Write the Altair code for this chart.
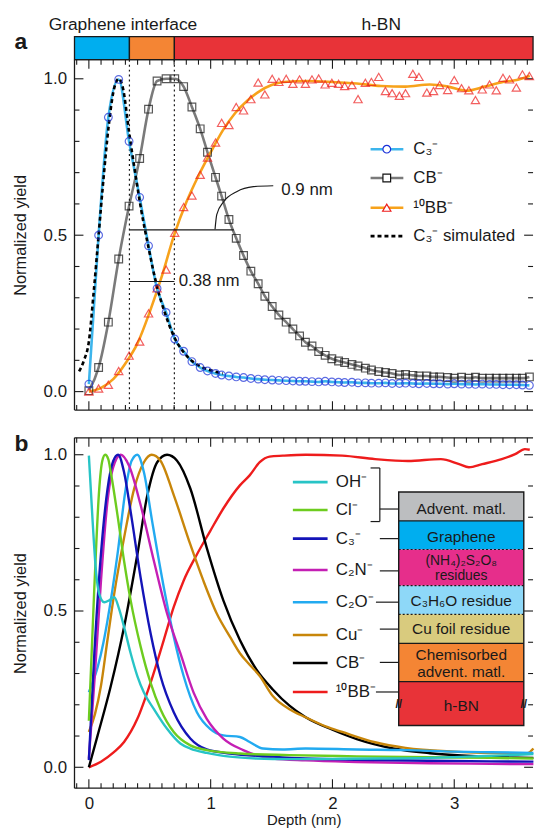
import altair as alt
import pandas as pd

FONT = "Liberation Sans"
INK = "#1a1a1a"
W = 462
H = 353
XDOM = [-0.118, 3.647]
YDOM_A = [-0.059, 1.061]
YDOM_B = [-0.067, 1.054]

# ---------------- panel a : measured profiles ----------------
depth = [0.0, 0.08, 0.16, 0.245, 0.33, 0.417, 0.49, 0.56, 0.634, 0.705,
         0.778, 0.846, 0.914, 0.974, 1.04, 1.09, 1.15, 1.21, 1.27, 1.33, 1.39,
         1.445, 1.505, 1.56, 1.62, 1.675, 1.73, 1.778, 1.832, 1.887, 1.94, 1.995,
         2.05, 2.10, 2.16, 2.21, 2.27, 2.32, 2.38, 2.435, 2.49, 2.55, 2.60,
         2.66, 2.71, 2.775, 2.83, 2.88, 2.946, 3.0, 3.06, 3.12, 3.174, 3.23,
         3.29, 3.345, 3.40, 3.454, 3.51, 3.56, 3.617]
c3_a = [0.024, 0.50, 0.877, 0.998, 0.80, 0.621, 0.466, 0.33, 0.253, 0.168,
        0.129, 0.096, 0.077, 0.066, 0.058, 0.053, 0.05, 0.047, 0.045, 0.042, 0.04,
        0.038, 0.037, 0.036, 0.035, 0.034, 0.033, 0.033, 0.032, 0.031, 0.033, 0.031,
        0.03, 0.029, 0.03, 0.028, 0.028, 0.027, 0.027, 0.028, 0.026, 0.026, 0.027,
        0.026, 0.025, 0.026, 0.025, 0.025, 0.024, 0.025, 0.024, 0.024, 0.023, 0.024,
        0.023, 0.023, 0.022, 0.022, 0.022, 0.021, 0.02]
cb_a = [0.003, 0.077, 0.222, 0.424, 0.593, 0.745, 0.903, 0.993, 1.0, 1.0,
        0.975, 0.91, 0.84, 0.765, 0.685, 0.625, 0.55, 0.49, 0.435, 0.385, 0.345,
        0.305, 0.272, 0.245, 0.222, 0.2, 0.178, 0.158, 0.146, 0.128, 0.116, 0.105,
        0.098, 0.093, 0.087, 0.082, 0.075, 0.069, 0.064, 0.061, 0.058, 0.053, 0.055,
        0.052, 0.05, 0.05, 0.047, 0.047, 0.045, 0.043, 0.046, 0.043, 0.046, 0.043,
        0.043, 0.043, 0.043, 0.043, 0.043, 0.043, 0.047]
bb_a = [0.0, 0.01, 0.022, 0.066, 0.115, 0.16, 0.25, 0.33, 0.39, 0.508,
        0.59, 0.627, 0.693, 0.748, 0.796, 0.859, 0.852, 0.91, 0.899, 0.935, 0.988,
        0.95, 1.0, 0.99, 1.0, 0.984, 0.998, 0.984, 0.998, 1.001, 0.982, 0.987,
        0.984, 0.977, 0.98, 0.935, 0.987, 0.99, 1.006, 0.961, 0.954, 0.946, 0.954,
        1.016, 1.006, 0.956, 0.961, 0.98, 0.964, 0.996, 0.97, 0.963, 0.932, 0.966,
        0.982, 0.963, 1.003, 0.998, 0.972, 1.014, 1.009]
bbfit_x = [0, 0.1, 0.2, 0.3, 0.4, 0.5, 0.6, 0.7, 0.8, 0.9, 1.0, 1.1, 1.2, 1.3,
           1.4, 1.5, 1.6, 1.8, 2.0, 2.2, 2.4, 2.6, 2.8, 2.95, 3.1, 3.25, 3.4, 3.5, 3.62]
bbfit_y = [0.0, 0.012, 0.04, 0.09, 0.155, 0.255, 0.37, 0.5, 0.605, 0.69, 0.765,
           0.835, 0.89, 0.93, 0.96, 0.98, 0.99, 0.993, 0.99, 0.985, 0.977, 0.975,
           0.982, 0.975, 0.962, 0.975, 0.99, 0.995, 1.01]
sim_x = [-0.08, -0.04, 0.0, 0.04, 0.08, 0.12, 0.16, 0.2, 0.245, 0.28, 0.33, 0.38,
         0.43, 0.49, 0.56, 0.63, 0.7, 0.78, 0.85, 0.92, 1.0, 1.1]
sim_y = [0.065, 0.1, 0.16, 0.32, 0.5, 0.68, 0.84, 0.955, 1.0, 0.97, 0.83, 0.7,
         0.58, 0.46, 0.335, 0.245, 0.175, 0.125, 0.097, 0.08, 0.068, 0.058]

band_start = [XDOM[0], 0.333, 0.702]
band_end = [0.333, 0.702, XDOM[1]]
band_color = ["#00aeef", "#f48534", "#e83338"]
interfaces = [0.333, 0.702]
headers = ["Graphene interface", "h-BN"]
header_x = [0.28, 2.40]

# width annotations (data coordinates)
w09_x = [0.333, 1.19]
w09_y = 0.517
arc_x = [1.036, 1.05, 1.107, 1.213, 1.351, 1.514]
arc_y = [0.519, 0.566, 0.607, 0.639, 0.655, 0.658]
w038_x = [0.333, 0.702]
w038_y = 0.352

legend_a_labels = ["C₃⁻", "CB⁻", "¹⁰BB⁻", "C₃⁻ simulated"]
legend_a_y = [0.775, 0.683, 0.588, 0.497]

# ---------------- panel b : profiles ----------------
oh_x = [0, 0.031, 0.06, 0.085, 0.126, 0.167, 0.208, 0.248, 0.289, 0.343, 0.398, 0.452,
        0.534, 0.642, 0.751, 0.833, 0.968, 1.158, 1.375, 1.647, 2.0, 2.4, 2.8, 3.1, 3.4, 3.65]
oh_y = [0.997, 0.786, 0.62, 0.555, 0.528, 0.534, 0.544, 0.507, 0.449, 0.365, 0.292, 0.239,
        0.186, 0.123, 0.076, 0.06, 0.046, 0.034, 0.028, 0.026, 0.027, 0.028, 0.03, 0.034, 0.038, 0.042]
cl_x = [0, 0.045, 0.085, 0.11, 0.134, 0.16, 0.18, 0.235, 0.289, 0.343, 0.425, 0.507,
        0.588, 0.697, 0.833, 0.968, 1.24, 1.647, 2.2, 2.8, 3.3, 3.65]
cl_y = [0.149, 0.576, 0.89, 0.98, 1.0, 0.985, 0.944, 0.807, 0.66, 0.534, 0.386, 0.27,
        0.186, 0.113, 0.07, 0.055, 0.044, 0.039, 0.035, 0.032, 0.03, 0.028]
c3_x = [0, 0.045, 0.099, 0.153, 0.2, 0.24, 0.289, 0.343, 0.425, 0.507, 0.588, 0.697,
        0.833, 0.968, 1.158, 1.51, 1.78, 2.2, 2.8, 3.3, 3.65]
c3_y = [0.023, 0.365, 0.681, 0.89, 0.98, 1.0, 0.944, 0.818, 0.607, 0.428, 0.292, 0.176,
        0.092, 0.057, 0.044, 0.034, 0.028, 0.024, 0.021, 0.019, 0.018]
c2n_x = [0, 0.05, 0.1, 0.15, 0.2, 0.262, 0.33, 0.425, 0.534, 0.642, 0.751, 0.86, 0.968,
         1.104, 1.267, 1.51, 1.78, 2.2, 2.8, 3.3, 3.65]
c2n_y = [0.028, 0.3, 0.6, 0.84, 0.96, 1.0, 0.965, 0.839, 0.66, 0.492, 0.365, 0.239, 0.155,
         0.092, 0.055, 0.028, 0.022, 0.017, 0.013, 0.011, 0.01]
c2o_x = [0, 0.02, 0.072, 0.12, 0.153, 0.235, 0.302, 0.35, 0.398, 0.452, 0.52, 0.615, 0.697,
         0.778, 0.887, 0.995, 1.104, 1.24, 1.32, 1.43, 1.59, 1.78, 2.2, 2.6, 3.0, 3.3, 3.65]
c2o_y = [0.24, 0.26, 0.32, 0.4, 0.47, 0.681, 0.89, 0.98, 1.0, 0.944, 0.786, 0.576, 0.418,
         0.292, 0.176, 0.123, 0.102, 0.097, 0.081, 0.06, 0.057, 0.06, 0.057, 0.055, 0.05, 0.048, 0.046]
cu_x = [0, 0.05, 0.099, 0.15, 0.208, 0.289, 0.371, 0.452, 0.515, 0.588, 0.697, 0.833, 0.94,
        1.05, 1.158, 1.24, 1.32, 1.403, 1.51, 1.647, 1.78, 1.95, 2.08, 2.35, 2.6, 3.0, 3.4, 3.6, 3.65]
cu_y = [0.113, 0.17, 0.26, 0.40, 0.555, 0.734, 0.89, 0.976, 1.0, 0.981, 0.871, 0.713, 0.597,
        0.492, 0.418, 0.365, 0.328, 0.292, 0.228, 0.186, 0.16, 0.13, 0.113, 0.08, 0.062, 0.05,
        0.045, 0.045, 0.06]
cb_x = [0, 0.072, 0.18, 0.289, 0.398, 0.48, 0.561, 0.642, 0.724, 0.833, 0.968, 1.104, 1.24,
        1.375, 1.51, 1.647, 1.78, 2.0, 2.2, 2.5, 2.8, 3.2, 3.65]
cb_y = [0.0, 0.102, 0.26, 0.449, 0.681, 0.87, 0.976, 1.0, 0.981, 0.892, 0.702, 0.534, 0.407,
        0.313, 0.249, 0.197, 0.16, 0.12, 0.09, 0.06, 0.045, 0.035, 0.03]
bb_x = [0, 0.099, 0.208, 0.289, 0.398, 0.507, 0.615, 0.697, 0.778, 0.887, 0.995, 1.104, 1.24,
        1.32, 1.403, 1.484, 1.593, 1.78, 2.08, 2.35, 2.62, 2.89, 3.04, 3.12, 3.23, 3.39, 3.5, 3.58, 3.62]
bb_y = [0.0, 0.018, 0.049, 0.081, 0.155, 0.271, 0.407, 0.513, 0.597, 0.681, 0.755, 0.828,
        0.902, 0.934, 0.976, 0.994, 0.997, 1.0, 0.997, 0.986, 0.98, 0.986, 0.97, 0.96, 0.97,
        0.986, 1.002, 1.018, 1.016]
# draw order (bottom -> top)
series_b = [(bb_x, bb_y, "#ee1c1c"), (cb_x, cb_y, "#000000"), (cu_x, cu_y, "#c8860a"),
            (c2o_x, c2o_y, "#22aaf0"), (c2n_x, c2n_y, "#c41fb4"), (c3_x, c3_y, "#1414b8"),
            (cl_x, cl_y, "#6dcc1f"), (oh_x, oh_y, "#27c4c6")]

legend_b_labels = ["OH⁻", "Cl⁻", "C₃⁻", "C₂N⁻", "C₂O⁻", "Cu⁻", "CB⁻", "¹⁰BB⁻"]
legend_b_colors = ["#27c4c6", "#6dcc1f", "#1414b8", "#c41fb4", "#22aaf0", "#c8860a", "#000000", "#ee1c1c"]
legend_b_y = [0.9125, 0.823, 0.7315, 0.6314, 0.5282, 0.4231, 0.3337, 0.2409]

layer_colors = ["#bcbec0", "#00aeef", "#e62e8b", "#8ed8f8", "#d9cb7e", "#f48534", "#e83338"]
layer_bounds = [0.881, 0.7885, 0.6969, 0.581, 0.4894, 0.3963, 0.2738, 0.1336]
layer_text = ["Advent. matl.", "Graphene", "(NH₄)₂S₂O₈", "residues", "C₃H₆O residue",
              "Cu foil residue", "Chemisorbed", "advent. matl.", "h-BN"]
layer_text_y = [0.8263, 0.7367, 0.6615, 0.611, 0.5305, 0.4411, 0.3578, 0.3053, 0.1967]
layer_text_size = [15.5, 15.5, 14, 14, 15.5, 15.5, 15.5, 15.5, 15.5]
solid_sep = [0.7885, 0.3963, 0.2738]
dotted_sep = [0.6969, 0.581, 0.4894]
connector_y = [0.8263, 0.7316, 0.6284, 0.5283, 0.4421, 0.3356, 0.2409]
connector_x0 = [2.389, 2.389, 2.389, 2.357, 2.389, 2.389, 2.357]
BOX_X = [2.544, 3.571]

# ticks
x_major = [0, 1, 2, 3]
x_minor = [-0.1, 0.1, 0.2, 0.3, 0.4, 0.5, 0.6, 0.7, 0.8, 0.9, 1.1, 1.2, 1.3, 1.4, 1.5, 1.6,
           1.7, 1.8, 1.9, 2.1, 2.2, 2.3, 2.4, 2.5, 2.6, 2.7, 2.8, 2.9, 3.1, 3.2, 3.3, 3.4, 3.5, 3.6]
y_major = [0.0, 0.5, 1.0]
y_minor = [0.1, 0.2, 0.3, 0.4, 0.6, 0.7, 0.8, 0.9]

xs = alt.Scale(domain=XDOM, nice=False, zero=False)
ysA = alt.Scale(domain=YDOM_A, nice=False, zero=False)
ysB = alt.Scale(domain=YDOM_B, nice=False, zero=False)
one = pd.DataFrame({"a": [0]})

AX_Y = alt.Axis(values=y_major, format=".1f", ticks=False, domain=False, grid=False,
                labelPadding=8, labelFontSize=17, labelColor=INK, labelFont=FONT,
                title="Normalized yield", titleFontSize=16.5, titleFontWeight="normal",
                titleColor=INK, titleFont=FONT, titlePadding=15)
AX_X = alt.Axis(values=x_major, format="d", ticks=False, domain=False, grid=False,
                labelPadding=7, labelFontSize=17, labelColor=INK, labelFont=FONT,
                title="Depth (nm)", titleFontSize=15, titleFontWeight="normal",
                titleColor=INK, titleFont=FONT, titlePadding=2)


# every layer of a panel carries the same axis spec (an axis=None in one layer would hide it)
def XA(field):
    return alt.X(field, scale=xs, axis=None)


def XB(field):
    return alt.X(field, scale=xs, axis=AX_X)


def YA(field):
    return alt.Y(field, scale=ysA, axis=AX_Y)


def YB(field):
    return alt.Y(field, scale=ysB, axis=AX_Y)


def frame_and_ticks(Xf, Yf):
    out = []
    for vals, L in ((x_major, 9), (x_minor, 5)):
        base = alt.Chart(pd.DataFrame({"v": vals})).mark_rule(color=INK, strokeWidth=1.1)
        out.append(base.encode(x=Xf("v:Q"), y=alt.value(H), y2=alt.value(H - L)))
        out.append(base.encode(x=Xf("v:Q"), y=alt.value(0), y2=alt.value(L)))
    for vals, L in ((y_major, 9), (y_minor, 5)):
        base = alt.Chart(pd.DataFrame({"v": vals})).mark_rule(color=INK, strokeWidth=1.1)
        out.append(base.encode(y=Yf("v:Q"), x=alt.value(0), x2=alt.value(L)))
        out.append(base.encode(y=Yf("v:Q"), x=alt.value(W), x2=alt.value(W - L)))
    fr = alt.Chart(one).mark_rule(color=INK, strokeWidth=1.3)
    out.append(fr.encode(x=alt.value(0), y=alt.value(0), y2=alt.value(H)))
    out.append(fr.encode(y=alt.value(0), x=alt.value(0), x2=alt.value(W)))
    out.append(fr.encode(y=alt.value(H), x=alt.value(0), x2=alt.value(W)))
    return out


# ---------------- build panel a ----------------
dfa = pd.DataFrame({"x": depth, "c3": c3_a, "cb": cb_a, "bb": bb_a})
dfit = pd.DataFrame({"x": bbfit_x, "y": bbfit_y})
dsim = pd.DataFrame({"x": sim_x, "y": sim_y})

la = []
la.append(alt.Chart(dfa).mark_line(color="#7a7a7a", strokeWidth=2.6, interpolate="monotone")
          .encode(x=XA("x:Q"), y=YA("cb:Q")))
la.append(alt.Chart(pd.DataFrame({"s": band_start, "e": band_end, "c": band_color}))
          .mark_rect(stroke=INK, strokeWidth=1.3)
          .encode(x=XA("s:Q"), x2="e:Q", y=alt.value(-23.3), y2=alt.value(0),
                  color=alt.Color("c:N", scale=None)))
la.append(alt.Chart(pd.DataFrame({"v": interfaces})).mark_rule(color=INK, strokeWidth=1.2, strokeDash=[2, 3])
          .encode(x=XA("v:Q"), y=alt.value(0), y2=alt.value(H)))
la += frame_and_ticks(XA, YA)
la.append(alt.Chart(dfit).mark_line(color="#f7a21b", strokeWidth=2.6, interpolate="monotone")
          .encode(x=XA("x:Q"), y=YA("y:Q")))
la.append(alt.Chart(dfa).mark_line(color="#3db5ec", strokeWidth=2.6, interpolate="monotone")
          .encode(x=XA("x:Q"), y=YA("c3:Q")))
la.append(alt.Chart(dsim).mark_line(color="#000000", strokeWidth=2.6, strokeDash=[4, 3], interpolate="monotone")
          .encode(x=XA("x:Q"), y=YA("y:Q")))
la.append(alt.Chart(dfa).mark_point(shape="square", filled=False, color="#111111", size=60, strokeWidth=1.2)
          .encode(x=XA("x:Q"), y=YA("cb:Q")))
la.append(alt.Chart(dfa).mark_point(shape="triangle-up", filled=False, color="#ee1c1c", size=70, strokeWidth=1.2)
          .encode(x=XA("x:Q"), y=YA("bb:Q")))
la.append(alt.Chart(dfa).mark_point(shape="circle", filled=False, color="#1a30d8", size=60, strokeWidth=1.2)
          .encode(x=XA("x:Q"), y=YA("c3:Q")))

# width annotations
la.append(alt.Chart(pd.DataFrame({"x": w09_x, "y": [w09_y, w09_y]})).mark_line(color=INK, strokeWidth=1.2)
          .encode(x=XA("x:Q"), y=YA("y:Q")))
la.append(alt.Chart(pd.DataFrame({"x": w038_x, "y": [w038_y, w038_y]})).mark_line(color=INK, strokeWidth=1.2)
          .encode(x=XA("x:Q"), y=YA("y:Q")))
la.append(alt.Chart(pd.DataFrame({"x": arc_x, "y": arc_y})).mark_line(color=INK, strokeWidth=1.2, interpolate="monotone")
          .encode(x=XA("x:Q"), y=YA("y:Q")))
la.append(alt.Chart(pd.DataFrame({"x": [1.58, 0.737], "y": [0.645, 0.352], "t": ["0.9 nm", "0.38 nm"]}))
          .mark_text(align="left", baseline="middle", fontSize=17, color=INK)
          .encode(x=XA("x:Q"), y=YA("y:Q"), text="t:N"))

# legend a
LA_X0, LA_X1, LA_XM, LA_XT = 2.313, 2.582, 2.446, 2.663
leg_lines = pd.DataFrame({"x1": [LA_X0] * 3, "x2": [LA_X1] * 3, "y": legend_a_y[:3],
                          "c": ["#3db5ec", "#7a7a7a", "#f7a21b"]})
la.append(alt.Chart(leg_lines).mark_rule(strokeWidth=2.6)
          .encode(x=XA("x1:Q"), x2="x2:Q", y=YA("y:Q"), color=alt.Color("c:N", scale=None)))
la.append(alt.Chart(pd.DataFrame({"x1": [LA_X0], "x2": [LA_X1], "y": [legend_a_y[3]]}))
          .mark_rule(strokeWidth=2.6, strokeDash=[4, 3], color="#000000")
          .encode(x=XA("x1:Q"), x2="x2:Q", y=YA("y:Q")))
for yv, shp, col, sz in ((legend_a_y[0], "circle", "#1a30d8", 60),
                         (legend_a_y[1], "square", "#111111", 60),
                         (legend_a_y[2], "triangle-up", "#ee1c1c", 70)):
    la.append(alt.Chart(pd.DataFrame({"x": [LA_XM], "y": [yv]}))
              .mark_point(shape=shp, filled=False, fill="white", fillOpacity=1, stroke=col, size=sz, strokeWidth=1.2)
              .encode(x=XA("x:Q"), y=YA("y:Q")))
la.append(alt.Chart(pd.DataFrame({"x": [LA_XT] * 4, "y": legend_a_y, "t": legend_a_labels}))
          .mark_text(align="left", baseline="middle", fontSize=17, color=INK)
          .encode(x=XA("x:Q"), y=YA("y:Q"), text="t:N"))

# headers
la.append(alt.Chart(pd.DataFrame({"x": header_x, "t": headers}))
          .mark_text(align="center", baseline="alphabetic", fontSize=17.5, color=INK)
          .encode(x=XA("x:Q"), y=alt.value(-30), text="t:N"))
la.append(alt.Chart(pd.DataFrame({"t": ["a"]})).mark_text(align="left", baseline="alphabetic", fontSize=23,
                                                          fontWeight="bold", color=INK)
          .encode(x=alt.value(-60.5), y=alt.value(-10.6), text="t:N"))

panel_a = alt.layer(*la).properties(width=W, height=H)

# ---------------- build panel b ----------------
lb = []
for sx, sy, col in series_b:
    d = pd.DataFrame({"x": sx, "y": sy})
    lb.append(alt.Chart(d).mark_line(color=col, strokeWidth=2.4, interpolate="monotone")
              .encode(x=XB("x:Q"), y=YB("y:Q")))
lb += frame_and_ticks(XB, YB)

LB_X0, LB_X1, LB_XT = 1.675, 1.960, 2.028
lb.append(alt.Chart(pd.DataFrame({"x1": [LB_X0] * 8, "x2": [LB_X1] * 8, "y": legend_b_y, "c": legend_b_colors}))
          .mark_rule(strokeWidth=2.6)
          .encode(x=XB("x1:Q"), x2="x2:Q", y=YB("y:Q"), color=alt.Color("c:N", scale=None)))
lb.append(alt.Chart(pd.DataFrame({"x": [LB_XT] * 8, "y": legend_b_y, "t": legend_b_labels}))
          .mark_text(align="left", baseline="middle", fontSize=17, color=INK)
          .encode(x=XB("x:Q"), y=YB("y:Q"), text="t:N"))

# layer stack diagram
stack = pd.DataFrame({"x1": [BOX_X[0]] * 7, "x2": [BOX_X[1]] * 7,
                      "y0": layer_bounds[:-1], "y1": layer_bounds[1:], "c": layer_colors})
lb.append(alt.Chart(stack).mark_rect()
          .encode(x=XB("x1:Q"), x2="x2:Q", y=YB("y0:Q"), y2="y1:Q", color=alt.Color("c:N", scale=None)))
lb.append(alt.Chart(pd.DataFrame({"x1": [BOX_X[0]] * 3, "x2": [BOX_X[1]] * 3, "y": solid_sep}))
          .mark_rule(color=INK, strokeWidth=1.3)
          .encode(x=XB("x1:Q"), x2="x2:Q", y=YB("y:Q")))
lb.append(alt.Chart(pd.DataFrame({"x1": [BOX_X[0]] * 3, "x2": [BOX_X[1]] * 3, "y": dotted_sep}))
          .mark_rule(color=INK, strokeWidth=1.2, strokeDash=[2, 2])
          .encode(x=XB("x1:Q"), x2="x2:Q", y=YB("y:Q")))
lb.append(alt.Chart(pd.DataFrame({"x1": [BOX_X[0]], "x2": [BOX_X[1]], "y0": [layer_bounds[0]], "y1": [layer_bounds[-1]]}))
          .mark_rect(fillOpacity=0, stroke=INK, strokeWidth=1.4)
          .encode(x=XB("x1:Q"), x2="x2:Q", y=YB("y0:Q"), y2="y1:Q"))
box_df = pd.DataFrame({"x": [(BOX_X[0] + BOX_X[1]) / 2] * len(layer_text), "y": layer_text_y,
                       "t": layer_text, "s": layer_text_size})
for fs in sorted(set(layer_text_size)):
    sub = box_df[box_df["s"] == fs]
    lb.append(alt.Chart(sub).mark_text(align="center", baseline="middle", fontSize=fs, color=INK)
              .encode(x=XB("x:Q"), y=YB("y:Q"), text="t:N"))
lb.append(alt.Chart(pd.DataFrame({"x": BOX_X, "y": [0.2021, 0.2021], "t": ["//", "//"]}))
          .mark_text(align="center", baseline="middle", fontSize=12, fontWeight="bold", color=INK)
          .encode(x=XB("x:Q"), y=YB("y:Q"), text="t:N"))

# connectors + bracket for the two adventitious ions
lb.append(alt.Chart(pd.DataFrame({"x1": connector_x0, "x2": [BOX_X[0]] * 7, "y": connector_y}))
          .mark_rule(color=INK, strokeWidth=1.2)
          .encode(x=XB("x1:Q"), x2="x2:Q", y=YB("y:Q")))
BR_X, BR_X0, BR_Y0, BR_Y1 = 2.389, 2.313, 0.9577, 0.7862
lb.append(alt.Chart(pd.DataFrame({"x1": [BR_X, BR_X0, BR_X0], "x2": [BR_X, BR_X, BR_X],
                                  "y1": [BR_Y0, BR_Y0, BR_Y1], "y2": [BR_Y1, BR_Y0, BR_Y1]}))
          .mark_rule(color=INK, strokeWidth=1.2)
          .encode(x=XB("x1:Q"), x2="x2:Q", y=YB("y1:Q"), y2="y2:Q"))

lb.append(alt.Chart(pd.DataFrame({"t": ["b"]})).mark_text(align="left", baseline="alphabetic", fontSize=23,
                                                          fontWeight="bold", color=INK)
          .encode(x=alt.value(-60.5), y=alt.value(13), text="t:N"))

panel_b = alt.layer(*lb).properties(width=W, height=H)

chart = (alt.vconcat(panel_a, panel_b, spacing=22)
         .properties(padding={"left": 4, "top": 5, "right": 0, "bottom": 0})
         .configure_view(stroke=None)
         .configure_axis(labelFont=FONT, titleFont=FONT)
         .configure_text(font=FONT))

chart.save("out.html", embed_options={"renderer": "svg", "actions": False})
